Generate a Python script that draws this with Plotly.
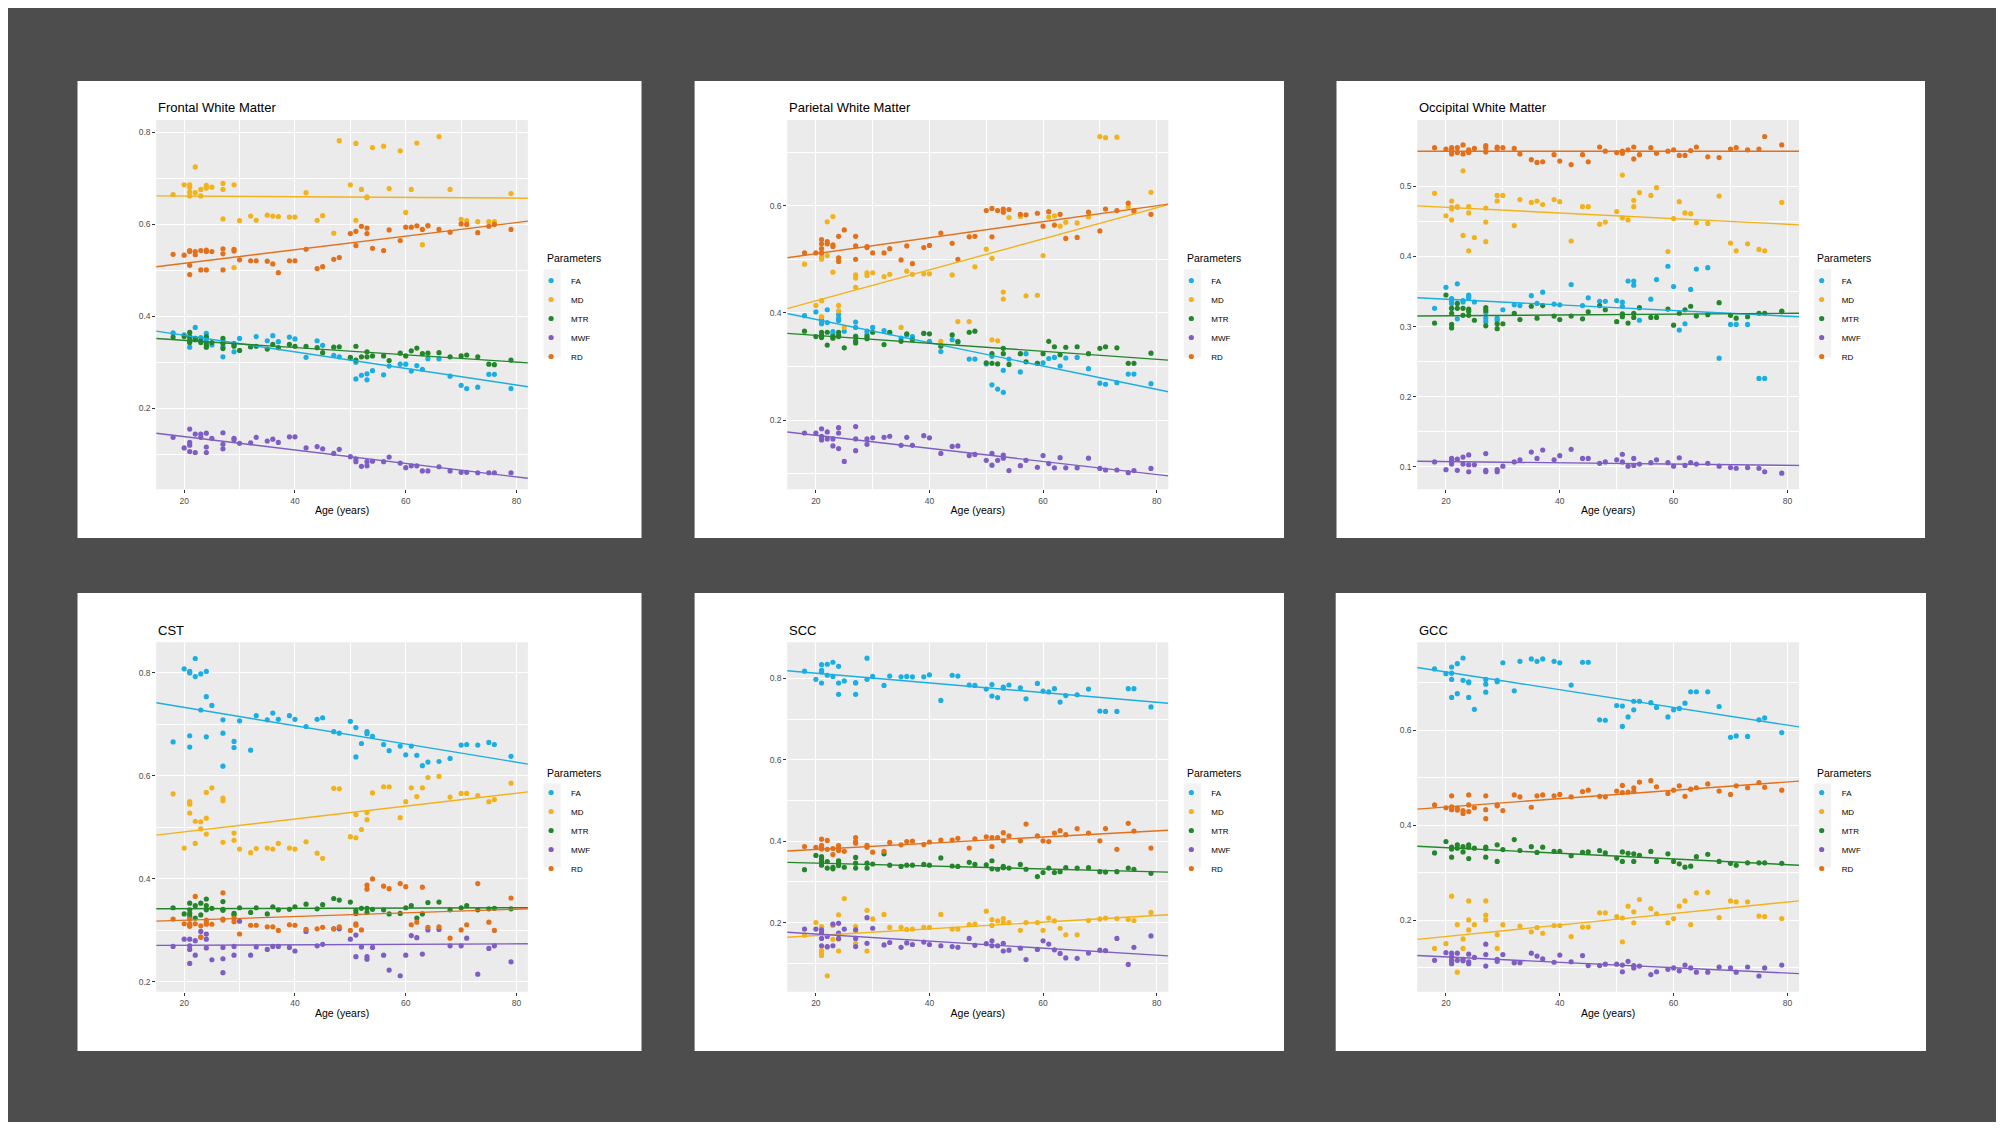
import plotly.graph_objects as go

# page is drawn inside the browser's 8px body margin, so the figure is a bit
# smaller than the window and reference pixel positions are shifted by OFF
W, H = 1988, 1114
OFF = 8

# one age per subject, shared by all six regions
AGES = [18, 20, 21, 21, 21, 21, 22, 22, 23, 23, 24, 24, 24, 25, 27, 27, 27, 29, 29,
        30, 32, 33, 35, 36, 37, 39, 40, 42, 44, 45, 47, 48, 50,
        51, 51, 52, 53, 53, 54,
        56, 57, 59, 60, 61, 62, 63, 64, 66, 68, 70, 71, 73, 75, 76, 79]

PARAMS = ["FA", "MD", "MTR", "MWF", "RD"]
COLORS = ["#1AAEE3", "#F2B21C", "#24862A", "#7E5DC4", "#E3701A"]

# regression lines: value at the two ends of the age axis, in PARAMS order
AGE_EDGES = [14.95, 82.05]

# ---- Frontal White Matter
FRONTAL_FA = [0.364, 0.360, 0.356, 0.350, 0.345, 0.333, 0.376, 0.352, 0.354, 0.347, 0.363, 0.352, 0.345, 0.338, 0.312, 0.334, 0.345, 0.323, 0.338,
              0.352, 0.334, 0.356, 0.347, 0.358, 0.345, 0.355, 0.351, 0.311, 0.347, 0.337, 0.315, 0.312, 0.309,
              0.264, 0.300, 0.272, 0.275, 0.262, 0.282,
              0.273, 0.292, 0.296, 0.296, 0.281, 0.293, 0.285, 0.308, 0.308, 0.270, 0.250, 0.243, 0.246, 0.274, 0.274, 0.243]
FRONTAL_MD = [0.665, 0.686, 0.686, 0.662, 0.680, 0.670, 0.725, 0.669, 0.676, 0.662, 0.685, 0.679, 0.680, 0.681, 0.689, 0.676, 0.612, 0.686, 0.506,
              0.608, 0.618, 0.609, 0.620, 0.618, 0.617, 0.616, 0.616, 0.669, 0.609, 0.619, 0.581, 0.782, 0.686,
              0.776, 0.609, 0.676, 0.660, 0.658, 0.767,
              0.770, 0.678, 0.760, 0.626, 0.676, 0.777, 0.556, 0.598, 0.791, 0.676, 0.611, 0.608, 0.606, 0.606, 0.606, 0.667]
FRONTAL_MTR = [0.355, 0.356, 0.365, 0.356, 0.347, 0.343, 0.352, 0.349, 0.347, 0.343, 0.356, 0.339, 0.333, 0.343, 0.352, 0.341, 0.330, 0.341, 0.335,
               0.326, 0.334, 0.335, 0.329, 0.339, 0.332, 0.339, 0.335, 0.335, 0.332, 0.321, 0.333, 0.334, 0.311,
               0.335, 0.305, 0.312, 0.323, 0.312, 0.314,
               0.314, 0.304, 0.320, 0.314, 0.325, 0.331, 0.319, 0.320, 0.321, 0.312, 0.314, 0.316, 0.312, 0.296, 0.295, 0.305]
FRONTAL_MWF = [0.137, 0.114, 0.155, 0.126, 0.106, 0.120, 0.144, 0.104, 0.144, 0.137, 0.146, 0.116, 0.104, 0.135, 0.147, 0.122, 0.112, 0.135, 0.132,
               0.124, 0.125, 0.137, 0.129, 0.133, 0.126, 0.138, 0.138, 0.114, 0.117, 0.112, 0.102, 0.111, 0.095,
               0.090, 0.084, 0.074, 0.084, 0.075, 0.085,
               0.084, 0.094, 0.081, 0.071, 0.075, 0.075, 0.064, 0.064, 0.073, 0.064, 0.061, 0.061, 0.060, 0.060, 0.060, 0.060]
FRONTAL_RD = [0.535, 0.533, 0.543, 0.511, 0.491, 0.541, 0.541, 0.534, 0.543, 0.501, 0.544, 0.501, 0.541, 0.541, 0.547, 0.536, 0.501, 0.546, 0.542,
              0.523, 0.521, 0.521, 0.520, 0.514, 0.495, 0.521, 0.521, 0.546, 0.504, 0.508, 0.524, 0.528, 0.580,
              0.585, 0.554, 0.596, 0.592, 0.580, 0.548,
              0.543, 0.588, 0.565, 0.594, 0.594, 0.597, 0.589, 0.597, 0.589, 0.583, 0.601, 0.600, 0.582, 0.596, 0.600, 0.589]
FRONTAL_FIT = [(0.368, 0.247), (0.662, 0.657), (0.352, 0.299), (0.146, 0.048), (0.508, 0.607)]

# ---- Parietal White Matter
PARIETAL_FA = [0.395, 0.402, 0.388, 0.380, 0.392, 0.385, 0.406, 0.382, 0.365, 0.360, 0.397, 0.386, 0.390, 0.366, 0.383, 0.373, 0.357, 0.366, 0.360,
               0.373, 0.367, 0.363, 0.353, 0.359, 0.356, 0.362, 0.347, 0.328, 0.350, 0.347, 0.314, 0.314, 0.305,
               0.319, 0.266, 0.258, 0.293, 0.252, 0.314,
               0.290, 0.324, 0.306, 0.307, 0.315, 0.317, 0.301, 0.316, 0.317, 0.296, 0.269, 0.267, 0.270, 0.286, 0.286, 0.268]
PARIETAL_MD = [0.491, 0.414, 0.500, 0.423, 0.393, 0.505, 0.570, 0.507, 0.580, 0.476, 0.414, 0.404, 0.502, 0.373, 0.471, 0.465, 0.448, 0.475, 0.470,
               0.475, 0.468, 0.472, 0.373, 0.478, 0.472, 0.473, 0.473, 0.347, 0.471, 0.384, 0.384, 0.486, 0.519,
               0.350, 0.502, 0.348, 0.439, 0.426, 0.578,
               0.580, 0.432, 0.433, 0.507, 0.579, 0.581, 0.562, 0.569, 0.568, 0.579, 0.729, 0.727, 0.728, 0.598, 0.588, 0.625]
PARIETAL_MTR = [0.366, 0.356, 0.364, 0.356, 0.354, 0.358, 0.364, 0.340, 0.356, 0.353, 0.364, 0.356, 0.358, 0.335, 0.356, 0.348, 0.344, 0.356, 0.352,
                0.364, 0.341, 0.364, 0.347, 0.361, 0.350, 0.362, 0.361, 0.338, 0.359, 0.346, 0.364, 0.366, 0.307,
                0.324, 0.306, 0.305, 0.334, 0.324, 0.304,
                0.324, 0.309, 0.306, 0.324, 0.347, 0.337, 0.322, 0.336, 0.337, 0.324, 0.334, 0.337, 0.335, 0.306, 0.306, 0.325]
PARIETAL_MWF = [0.176, 0.176, 0.184, 0.170, 0.166, 0.163, 0.178, 0.165, 0.165, 0.152, 0.186, 0.176, 0.147, 0.123, 0.188, 0.165, 0.143, 0.165, 0.155,
                0.167, 0.168, 0.170, 0.153, 0.168, 0.153, 0.171, 0.167, 0.138, 0.151, 0.152, 0.134, 0.136, 0.125,
                0.138, 0.116, 0.125, 0.135, 0.129, 0.106,
                0.115, 0.125, 0.112, 0.134, 0.119, 0.111, 0.130, 0.111, 0.111, 0.129, 0.110, 0.107, 0.107, 0.102, 0.106, 0.110]
PARIETAL_RD = [0.512, 0.512, 0.537, 0.529, 0.520, 0.512, 0.529, 0.533, 0.527, 0.524, 0.543, 0.503, 0.496, 0.555, 0.543, 0.525, 0.500, 0.524, 0.522,
               0.512, 0.512, 0.520, 0.499, 0.525, 0.492, 0.522, 0.526, 0.549, 0.530, 0.500, 0.542, 0.543, 0.591,
               0.595, 0.542, 0.591, 0.594, 0.588, 0.593,
               0.584, 0.583, 0.586, 0.562, 0.589, 0.564, 0.584, 0.539, 0.541, 0.588, 0.553, 0.594, 0.591, 0.605, 0.591, 0.584]
PARIETAL_FIT = [(0.399, 0.253), (0.408, 0.602), (0.362, 0.312), (0.178, 0.096), (0.503, 0.603)]

# ---- Occipital White Matter
OCCIPITAL_FA = [0.326, 0.356, 0.340, 0.333, 0.326, 0.336, 0.361, 0.311, 0.337, 0.335, 0.345, 0.341, 0.343, 0.335, 0.307, 0.312, 0.320, 0.312, 0.309,
                0.324, 0.331, 0.330, 0.344, 0.333, 0.349, 0.332, 0.331, 0.360, 0.330, 0.341, 0.336, 0.336, 0.337,
                0.335, 0.329, 0.365, 0.365, 0.359, 0.309,
                0.339, 0.367, 0.386, 0.357, 0.295, 0.304, 0.353, 0.382, 0.384, 0.255, 0.303, 0.303, 0.303, 0.226, 0.226, 0.321]
OCCIPITAL_MD = [0.490, 0.458, 0.479, 0.468, 0.452, 0.470, 0.471, 0.470, 0.522, 0.430, 0.471, 0.462, 0.408, 0.427, 0.469, 0.449, 0.421, 0.487, 0.479,
                0.487, 0.444, 0.481, 0.477, 0.479, 0.474, 0.481, 0.478, 0.422, 0.471, 0.471, 0.446, 0.449, 0.464,
                0.516, 0.455, 0.452, 0.480, 0.471, 0.491,
                0.487, 0.498, 0.407, 0.454, 0.478, 0.462, 0.461, 0.448, 0.447, 0.486, 0.419, 0.408, 0.418, 0.410, 0.408, 0.477]
OCCIPITAL_MTR = [0.305, 0.345, 0.319, 0.303, 0.298, 0.326, 0.333, 0.326, 0.326, 0.316, 0.325, 0.316, 0.322, 0.309, 0.327, 0.323, 0.301, 0.304, 0.297,
                 0.304, 0.319, 0.310, 0.329, 0.312, 0.330, 0.315, 0.310, 0.315, 0.311, 0.321, 0.330, 0.324, 0.307,
                 0.318, 0.314, 0.305, 0.319, 0.313, 0.327,
                 0.313, 0.313, 0.325, 0.302, 0.319, 0.324, 0.329, 0.315, 0.317, 0.334, 0.316, 0.312, 0.314, 0.319, 0.319, 0.322]
OCCIPITAL_MWF = [0.107, 0.096, 0.111, 0.108, 0.104, 0.112, 0.111, 0.095, 0.114, 0.104, 0.117, 0.103, 0.093, 0.103, 0.119, 0.093, 0.095, 0.096, 0.093,
                 0.101, 0.107, 0.110, 0.121, 0.112, 0.124, 0.110, 0.116, 0.125, 0.112, 0.112, 0.105, 0.107, 0.110,
                 0.118, 0.107, 0.101, 0.112, 0.102, 0.104,
                 0.106, 0.110, 0.106, 0.101, 0.113, 0.102, 0.106, 0.104, 0.105, 0.101, 0.099, 0.098, 0.099, 0.098, 0.093, 0.091]
OCCIPITAL_RD = [0.555, 0.553, 0.555, 0.546, 0.552, 0.550, 0.555, 0.548, 0.559, 0.546, 0.550, 0.552, 0.548, 0.554, 0.558, 0.555, 0.549, 0.556, 0.554,
                0.555, 0.554, 0.546, 0.538, 0.534, 0.535, 0.545, 0.536, 0.531, 0.545, 0.535, 0.556, 0.550, 0.548,
                0.550, 0.547, 0.552, 0.556, 0.539, 0.545,
                0.555, 0.547, 0.550, 0.552, 0.544, 0.544, 0.551, 0.556, 0.542, 0.541, 0.553, 0.555, 0.552, 0.553, 0.571, 0.559]
OCCIPITAL_FIT = [(0.341, 0.314), (0.472, 0.445), (0.315, 0.319), (0.108, 0.102), (0.550, 0.550)]

# ---- CST
CST_FA = [0.666, 0.808, 0.803, 0.678, 0.656, 0.800, 0.828, 0.793, 0.798, 0.728, 0.803, 0.754, 0.676, 0.737, 0.709, 0.683, 0.619, 0.667, 0.655,
          0.707, 0.650, 0.717, 0.709, 0.722, 0.710, 0.717, 0.710, 0.696, 0.710, 0.713, 0.686, 0.683, 0.706,
          0.694, 0.637, 0.663, 0.686, 0.682, 0.677,
          0.661, 0.649, 0.658, 0.641, 0.658, 0.640, 0.620, 0.627, 0.628, 0.634, 0.660, 0.661, 0.660, 0.665, 0.661, 0.638]
CST_MD = [0.565, 0.460, 0.550, 0.545, 0.528, 0.547, 0.512, 0.469, 0.511, 0.497, 0.568, 0.518, 0.487, 0.577, 0.557, 0.552, 0.471, 0.489, 0.475,
          0.458, 0.451, 0.459, 0.460, 0.458, 0.469, 0.460, 0.458, 0.472, 0.450, 0.440, 0.576, 0.575, 0.482,
          0.525, 0.480, 0.496, 0.529, 0.515, 0.567,
          0.579, 0.579, 0.519, 0.550, 0.577, 0.560, 0.577, 0.597, 0.599, 0.559, 0.566, 0.566, 0.562, 0.550, 0.554, 0.586]
CST_MTR = [0.344, 0.332, 0.353, 0.333, 0.328, 0.340, 0.348, 0.324, 0.353, 0.330, 0.361, 0.348, 0.340, 0.343, 0.356, 0.341, 0.339, 0.333, 0.330,
           0.344, 0.335, 0.344, 0.332, 0.346, 0.340, 0.341, 0.346, 0.351, 0.342, 0.350, 0.362, 0.359, 0.355,
           0.339, 0.333, 0.343, 0.343, 0.335, 0.341,
           0.340, 0.332, 0.333, 0.344, 0.348, 0.324, 0.332, 0.354, 0.355, 0.340, 0.344, 0.348, 0.340, 0.342, 0.343, 0.342]
CST_MWF = [0.269, 0.283, 0.283, 0.263, 0.236, 0.270, 0.280, 0.252, 0.298, 0.287, 0.293, 0.283, 0.266, 0.243, 0.267, 0.245, 0.218, 0.269, 0.252,
           0.318, 0.252, 0.268, 0.263, 0.269, 0.269, 0.267, 0.260, 0.298, 0.270, 0.273, 0.303, 0.303, 0.283,
           0.291, 0.249, 0.268, 0.249, 0.244, 0.267,
           0.252, 0.223, 0.212, 0.252, 0.290, 0.286, 0.254, 0.301, 0.302, 0.270, 0.270, 0.285, 0.215, 0.265, 0.270, 0.239]
CST_RD = [0.322, 0.313, 0.310, 0.308, 0.313, 0.322, 0.366, 0.313, 0.309, 0.287, 0.320, 0.315, 0.312, 0.312, 0.373, 0.322, 0.320, 0.324, 0.317,
          0.293, 0.310, 0.310, 0.307, 0.307, 0.300, 0.311, 0.310, 0.302, 0.303, 0.306, 0.303, 0.307, 0.300,
          0.313, 0.310, 0.301, 0.388, 0.380, 0.400,
          0.386, 0.381, 0.391, 0.385, 0.311, 0.316, 0.384, 0.306, 0.307, 0.285, 0.301, 0.311, 0.391, 0.316, 0.300, 0.363]
CST_FIT = [(0.742, 0.623), (0.485, 0.569), (0.342, 0.344), (0.271, 0.274), (0.318, 0.342)]

# ---- SCC
SCC_FA = [0.818, 0.798, 0.834, 0.816, 0.789, 0.820, 0.835, 0.808, 0.840, 0.805, 0.830, 0.789, 0.761, 0.794, 0.789, 0.761, 0.790, 0.850, 0.798,
          0.805, 0.783, 0.806, 0.804, 0.805, 0.804, 0.804, 0.809, 0.746, 0.808, 0.806, 0.784, 0.783, 0.774,
          0.785, 0.757, 0.753, 0.779, 0.776, 0.784,
          0.777, 0.750, 0.788, 0.769, 0.767, 0.775, 0.742, 0.758, 0.760, 0.774, 0.720, 0.719, 0.719, 0.775, 0.775, 0.730]
SCC_MD = [0.169, 0.200, 0.131, 0.119, 0.126, 0.190, 0.139, 0.069, 0.193, 0.159, 0.219, 0.159, 0.130, 0.259, 0.190, 0.149, 0.180, 0.230, 0.130,
          0.209, 0.220, 0.188, 0.188, 0.183, 0.184, 0.188, 0.188, 0.220, 0.184, 0.184, 0.195, 0.196, 0.228,
          0.207, 0.193, 0.204, 0.210, 0.200, 0.200,
          0.181, 0.200, 0.200, 0.181, 0.211, 0.204, 0.186, 0.170, 0.170, 0.205, 0.209, 0.211, 0.210, 0.208, 0.205, 0.225]
SCC_MTR = [0.330, 0.365, 0.362, 0.356, 0.341, 0.350, 0.350, 0.334, 0.336, 0.332, 0.352, 0.346, 0.340, 0.336, 0.360, 0.346, 0.334, 0.346, 0.334,
           0.344, 0.369, 0.341, 0.338, 0.341, 0.341, 0.343, 0.341, 0.359, 0.339, 0.338, 0.348, 0.343, 0.342,
           0.352, 0.332, 0.331, 0.338, 0.335, 0.334,
           0.343, 0.331, 0.313, 0.323, 0.334, 0.323, 0.325, 0.335, 0.334, 0.335, 0.325, 0.324, 0.325, 0.334, 0.331, 0.321]
SCC_MWF = [0.184, 0.184, 0.182, 0.161, 0.143, 0.175, 0.166, 0.141, 0.196, 0.143, 0.198, 0.174, 0.161, 0.184, 0.182, 0.161, 0.141, 0.212, 0.149,
           0.186, 0.145, 0.151, 0.139, 0.150, 0.146, 0.152, 0.146, 0.143, 0.141, 0.139, 0.161, 0.144, 0.148,
           0.155, 0.143, 0.143, 0.149, 0.130, 0.132,
           0.137, 0.109, 0.134, 0.155, 0.147, 0.133, 0.124, 0.113, 0.112, 0.125, 0.132, 0.131, 0.161, 0.097, 0.139, 0.167]
SCC_RD = [0.387, 0.385, 0.405, 0.385, 0.381, 0.390, 0.402, 0.380, 0.382, 0.367, 0.389, 0.382, 0.377, 0.375, 0.409, 0.399, 0.395, 0.390, 0.385,
          0.373, 0.375, 0.397, 0.391, 0.399, 0.400, 0.392, 0.398, 0.403, 0.403, 0.407, 0.383, 0.406, 0.411,
          0.409, 0.387, 0.409, 0.421, 0.401, 0.413,
          0.401, 0.442, 0.413, 0.401, 0.399, 0.420, 0.426, 0.416, 0.431, 0.420, 0.401, 0.431, 0.380, 0.444, 0.425, 0.383]
SCC_FIT = [(0.819, 0.739), (0.164, 0.219), (0.348, 0.324), (0.176, 0.118), (0.376, 0.427)]

# ---- GCC
GCC_FA = [0.729, 0.719, 0.733, 0.707, 0.669, 0.720, 0.740, 0.677, 0.752, 0.705, 0.702, 0.669, 0.700, 0.644, 0.707, 0.697, 0.680, 0.705, 0.702,
          0.742, 0.683, 0.745, 0.750, 0.745, 0.750, 0.745, 0.742, 0.695, 0.743, 0.743, 0.622, 0.621, 0.652,
          0.651, 0.608, 0.628, 0.661, 0.643, 0.661,
          0.658, 0.648, 0.628, 0.643, 0.646, 0.657, 0.681, 0.681, 0.681, 0.650, 0.585, 0.588, 0.587, 0.622, 0.626, 0.595]
GCC_MD = [0.141, 0.151, 0.251, 0.120, 0.113, 0.115, 0.191, 0.091, 0.161, 0.141, 0.241, 0.201, 0.180, 0.191, 0.241, 0.211, 0.201, 0.170, 0.141,
          0.191, 0.111, 0.188, 0.176, 0.185, 0.173, 0.189, 0.189, 0.166, 0.186, 0.186, 0.216, 0.216, 0.208,
          0.205, 0.155, 0.230, 0.218, 0.195, 0.244,
          0.225, 0.214, 0.195, 0.204, 0.230, 0.241, 0.191, 0.258, 0.259, 0.206, 0.241, 0.239, 0.239, 0.209, 0.208, 0.204]
GCC_MTR = [0.342, 0.366, 0.354, 0.350, 0.333, 0.352, 0.359, 0.352, 0.355, 0.344, 0.359, 0.330, 0.354, 0.352, 0.354, 0.351, 0.333, 0.359, 0.324,
           0.349, 0.370, 0.347, 0.355, 0.343, 0.354, 0.345, 0.345, 0.336, 0.343, 0.344, 0.347, 0.342, 0.331,
           0.344, 0.324, 0.341, 0.340, 0.324, 0.337,
           0.345, 0.324, 0.340, 0.324, 0.319, 0.312, 0.314, 0.334, 0.339, 0.324, 0.320, 0.316, 0.321, 0.321, 0.321, 0.320]
GCC_MWF = [0.116, 0.132, 0.131, 0.124, 0.109, 0.116, 0.131, 0.116, 0.118, 0.115, 0.129, 0.113, 0.109, 0.122, 0.128, 0.104, 0.150, 0.118, 0.114,
           0.128, 0.111, 0.111, 0.131, 0.125, 0.119, 0.112, 0.127, 0.113, 0.126, 0.105, 0.105, 0.108, 0.108,
           0.106, 0.092, 0.114, 0.105, 0.100, 0.104,
           0.086, 0.092, 0.097, 0.100, 0.094, 0.106, 0.100, 0.091, 0.091, 0.102, 0.100, 0.091, 0.102, 0.083, 0.100, 0.106]
GCC_RD = [0.443, 0.437, 0.462, 0.439, 0.433, 0.436, 0.436, 0.432, 0.431, 0.425, 0.464, 0.443, 0.429, 0.437, 0.462, 0.433, 0.414, 0.443, 0.441,
          0.431, 0.464, 0.460, 0.438, 0.462, 0.464, 0.462, 0.465, 0.460, 0.471, 0.474, 0.461, 0.460, 0.472,
          0.484, 0.469, 0.470, 0.479, 0.471, 0.491,
          0.494, 0.481, 0.467, 0.474, 0.483, 0.461, 0.476, 0.479, 0.487, 0.472, 0.465, 0.483, 0.479, 0.490, 0.480, 0.474]
GCC_FIT = [(0.732, 0.607), (0.160, 0.241), (0.356, 0.316), (0.126, 0.088), (0.434, 0.493)]


# panel layout in reference pixels: white card, plot box, legend column x,
# legend title y, first legend row y, panel title y
TOP = dict(ttl=107, lgt=258, lg0=276, key=(269.5, 357.5))
BOT = dict(ttl=630, lgt=773, lg0=788, key=(783.5, 867.5))

panels = [
    dict(title="Frontal White Matter", series=[FRONTAL_FA, FRONTAL_MD, FRONTAL_MTR, FRONTAL_MWF, FRONTAL_RD],
         fit=FRONTAL_FIT, yrange=[0.024, 0.827], dtick=0.2,
         card=(77.5, 81, 641.5, 538), box=(156.2, 120, 527.9, 489.3), lgx=544.6, row=TOP),
    dict(title="Parietal White Matter", series=[PARIETAL_FA, PARIETAL_MD, PARIETAL_MTR, PARIETAL_MWF, PARIETAL_RD],
         fit=PARIETAL_FIT, yrange=[0.071, 0.760], dtick=0.2,
         card=(694.6, 81, 1284, 538), box=(787.2, 120, 1168.3, 489.3), lgx=1184.8, row=TOP),
    dict(title="Occipital White Matter", series=[OCCIPITAL_FA, OCCIPITAL_MD, OCCIPITAL_MTR, OCCIPITAL_MWF, OCCIPITAL_RD],
         fit=OCCIPITAL_FIT, yrange=[0.068, 0.5945], dtick=0.1,
         card=(1336.5, 81, 1925, 538), box=(1417.2, 120, 1799.1, 489.3), lgx=1815.2, row=TOP),
    dict(title="CST", series=[CST_FA, CST_MD, CST_MTR, CST_MWF, CST_RD],
         fit=CST_FIT, yrange=[0.181, 0.8595], dtick=0.2,
         card=(77.5, 593, 641.5, 1051), box=(156.2, 642.3, 527.9, 991.7), lgx=544.6, row=BOT),
    dict(title="SCC", series=[SCC_FA, SCC_MD, SCC_MTR, SCC_MWF, SCC_RD],
         fit=SCC_FIT, yrange=[0.030, 0.889], dtick=0.2,
         card=(694.6, 593, 1284, 1051), box=(787.2, 642.3, 1168.3, 991.7), lgx=1184.8, row=BOT),
    dict(title="GCC", series=[GCC_FA, GCC_MD, GCC_MTR, GCC_MWF, GCC_RD],
         fit=GCC_FIT, yrange=[0.050, 0.785], dtick=0.2,
         card=(1335.7, 593, 1926, 1051), box=(1417.2, 642.3, 1799.1, 991.7), lgx=1815.2, row=BOT),
]


def px(x):
    return (x - OFF) / W


def py(y):
    return 1 - (y - OFF) / H


FONT = "Liberation Sans, Arial, sans-serif"


def rect(x0, y0, x1, y1, color):
    return dict(type="rect", xref="paper", yref="paper", layer="below",
                x0=px(x0), x1=px(x1), y0=py(y1), y1=py(y0),
                fillcolor=color, line=dict(width=0))


fig = go.Figure()
cards, boxes, keys = [], [], []
annotations = []
layout = {}

for i, p in enumerate(panels):
    n = "" if i == 0 else str(i + 1)
    xa, ya = "x" + n, "y" + n
    leg = "legend" + n
    row = p["row"]
    for name, vals, col in zip(PARAMS, p["series"], COLORS):
        fig.add_trace(go.Scatter(
            x=AGES, y=vals, mode="markers", name=name, xaxis=xa, yaxis=ya,
            marker=dict(color=col, size=5.2), legend=leg, showlegend=True))
    for name, (lo, hi), col in zip(PARAMS, p["fit"], COLORS):
        fig.add_trace(go.Scatter(
            x=AGE_EDGES, y=[lo, hi], mode="lines", name=name, xaxis=xa, yaxis=ya,
            line=dict(color=col, width=1.4), legend=leg, showlegend=False,
            hoverinfo="skip"))

    x0, y0, x1, y1 = p["box"]
    tickfont = dict(size=8.5, color="#4D4D4D", family=FONT)
    layout["xaxis" + n] = dict(
        domain=[px(x0), px(x1)], anchor=ya, range=AGE_EDGES,
        tickmode="linear", tick0=0, dtick=20,
        ticks="outside", ticklen=3, tickwidth=1, tickcolor="#333333", tickfont=tickfont,
        showgrid=True, gridcolor="white", gridwidth=1.1, zeroline=False, showline=False,
        minor=dict(dtick=10, tick0=0, showgrid=True, gridcolor="white", gridwidth=0.5),
        title=dict(text="Age (years)", font=dict(size=10.5, color="black", family=FONT), standoff=2))
    layout["yaxis" + n] = dict(
        domain=[py(y1), py(y0)], anchor=xa, range=p["yrange"],
        tickmode="linear", tick0=0, dtick=p["dtick"], tickformat=".1f",
        ticks="outside", ticklen=3, tickwidth=1, tickcolor="#333333", tickfont=tickfont,
        showgrid=True, gridcolor="white", gridwidth=1.1, zeroline=False, showline=False,
        minor=dict(dtick=p["dtick"] / 2, tick0=0, showgrid=True, gridcolor="white", gridwidth=0.5))

    # plotly puts the legend symbol ~21px and the label ~40px right of the legend edge
    layout[leg] = dict(
        x=px(p["lgx"] - 13.5), y=py(row["lg0"] - 10), xanchor="left", yanchor="top",
        xref="paper", yref="paper",
        bgcolor="rgba(0,0,0,0)", borderwidth=0, tracegroupgap=0, itemwidth=30,
        font=dict(size=8, color="black", family=FONT))

    annotations.append(dict(text="Parameters", xref="paper", yref="paper",
                            x=px(p["lgx"]), y=py(row["lgt"]), xanchor="left", yanchor="middle",
                            showarrow=False, font=dict(size=10.5, color="black", family=FONT)))
    annotations.append(dict(text=p["title"], xref="paper", yref="paper",
                            x=px(x0), y=py(row["ttl"]), xanchor="left", yanchor="middle",
                            showarrow=False, font=dict(size=13, color="black", family=FONT)))

    cards.append(rect(*p["card"], "white"))
    boxes.append(rect(x0, y0, x1, y1, "#EBEBEB"))
    k0, k1 = row["key"]
    keys.append(rect(p["lgx"] - 1, k0, p["lgx"] + 16, k1, "#F2F2F2"))

fig.update_layout(
    width=W, height=H, margin=dict(l=0, r=0, t=0, b=0),
    paper_bgcolor="#4D4D4D", plot_bgcolor="#EBEBEB",
    font=dict(family=FONT),
    shapes=cards + boxes + keys, annotations=annotations,
    **layout)

fig.write_html("out.html")
